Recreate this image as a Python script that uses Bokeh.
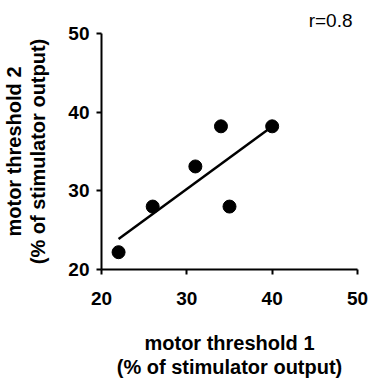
import numpy as np
from bokeh.plotting import figure
from bokeh.models import Range1d, Title, FixedTicker
from bokeh.embed import file_html
from bokeh.resources import INLINE

# data
mt1 = [22, 26, 31, 34, 35, 40]
mt2 = [22.2, 28.0, 33.1, 38.2, 28.0, 38.2]
x_ticks = [20, 30, 40, 50]
y_ticks = [20, 30, 40, 50]
r_text = "r=0.8"
x_label = ["motor threshold 1", "(% of stimulator output)"]
y_label = ["motor threshold 2", "(% of stimulator output)"]

FONT = "Liberation Sans"

p = figure(width=371, height=378, output_backend="svg", toolbar_location=None,
           x_range=Range1d(20, 50), y_range=Range1d(20, 50),
           min_border_left=101, min_border_right=14, min_border_top=33,
           min_border_bottom=109)
p.outline_line_color = None
p.grid.visible = False
p.background_fill_color = "white"
p.border_fill_color = "white"

for ax in (p.xaxis[0], p.yaxis[0]):
    ax.axis_line_width = 2
    ax.axis_line_color = "black"
    ax.major_tick_line_width = 2
    ax.major_tick_line_color = "black"
    ax.major_tick_in = 0
    ax.major_tick_out = 5
    ax.minor_tick_line_color = None
    ax.major_label_text_font = FONT
    ax.major_label_text_font_style = "bold"
    ax.major_label_text_font_size = "19px"
    ax.major_label_text_color = "black"
    # tiny blank axis label used only as a spacer before the titles
    ax.axis_label = " "
    ax.axis_label_text_font_size = "1px"

p.xaxis[0].ticker = FixedTicker(ticks=x_ticks)
p.yaxis[0].ticker = FixedTicker(ticks=y_ticks)
p.xaxis[0].major_label_standoff = 17
p.yaxis[0].major_label_standoff = 7
p.xaxis[0].axis_label_standoff = 18
p.yaxis[0].axis_label_standoff = 13

# regression line
slope, intercept = np.polyfit(mt1, mt2, 1)
fx = np.array([min(mt1), max(mt1)])
p.line(fx, slope * fx + intercept, line_color="black", line_width=2.5)

p.scatter(mt1, mt2, size=13, fill_color="black", line_color="black")


def add_title(text, place, offset, standoff, bold=True, size="20px", align="center"):
    p.add_layout(Title(text=text, align=align, offset=offset, standoff=standoff,
                       text_font=FONT, text_font_style="bold" if bold else "normal",
                       text_font_size=size, text_color="black"), place)


add_title(x_label[0], "below", 7, 0)
add_title(x_label[1], "below", 9, 0)
add_title(y_label[1], "left", 10, 0)
add_title(y_label[0], "left", 8, 0)
add_title(r_text, "above", 5, 6, bold=False, size="19px", align="right")

open("out.html", "w").write(file_html(p, INLINE))
